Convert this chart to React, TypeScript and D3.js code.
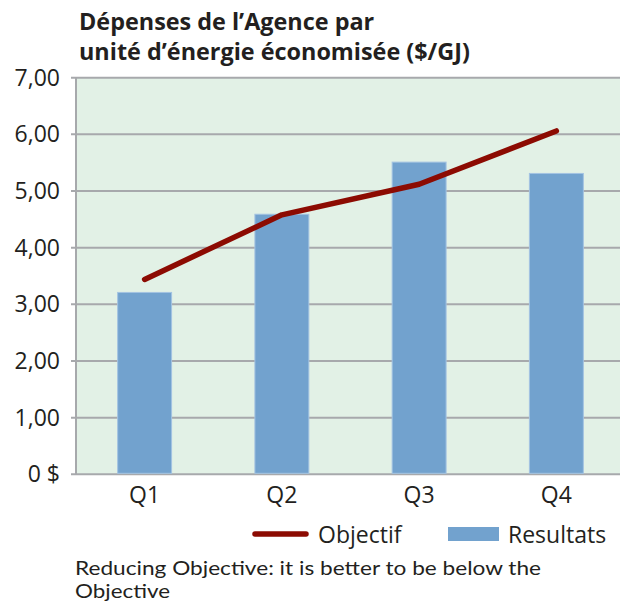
import React from "react";
import * as d3 from "d3";

const quarters = ["Q1", "Q2", "Q3", "Q4"];
const resultats = [3.21, 4.59, 5.51, 5.31];
const objectif = [3.44, 4.58, 5.12, 6.06];
const yTicks = [0, 1, 2, 3, 4, 5, 6, 7];
const yTickLabels = ["0 $", "1,00", "2,00", "3,00", "4,00", "5,00", "6,00", "7,00"];
const titleLines = ["Dépenses de l’Agence par", "unité d’énergie économisée ($/GJ)"];
const noteLines = ["Reducing Objective: it is better to be below the", "Objective"];
const legendLabels = ["Objectif", "Resultats"];

const W = 620;
const H = 604;
const left = 76;
const right = 625;
const top = 77.7;
const bottom = 474.3;
const FONT = "'Open Sans', sans-serif";
const TEXT = "#231f20";

export default function App() {
  const x = d3
    .scaleBand<string>()
    .domain(quarters)
    .range([left, right])
    .paddingInner(0.607)
    .paddingOuter(0.3035);
  const y = d3.scaleLinear().domain([0, 7]).range([bottom, top]);
  const line = d3
    .line<number>()
    .x((_, i) => (x(quarters[i]) as number) + x.bandwidth() / 2)
    .y((d) => y(d));

  return (
    <svg
      width={W}
      height={H}
      style={{ position: "absolute", left: 0, top: 0, background: "#fff" }}
      fontFamily={FONT}
    >
      <text fontSize={23.4} fontWeight={700} fill={TEXT}>
        {titleLines.map((t, i) => (
          <tspan key={t} x={79} y={30 + i * 30}>
            {t}
          </tspan>
        ))}
      </text>
      <rect x={left} y={top} width={W - left} height={bottom - top} fill="#e2f1e6" />
      {yTicks.map((t, i) => (
        <g key={t}>
          <line x1={71} x2={W} y1={y(t)} y2={y(t)} stroke="#a7a9ac" strokeWidth={2} />
          <text x={60} y={y(t) + 8} textAnchor="end" fontSize={23} fill={TEXT}>
            {yTickLabels[i]}
          </text>
        </g>
      ))}
      <line x1={left} x2={left} y1={top} y2={bottom} stroke="#a7a9ac" strokeWidth={2} />
      {quarters.map((q, i) => (
        <rect
          key={q}
          x={x(q)}
          y={y(resultats[i])}
          width={x.bandwidth()}
          height={bottom - 1 - y(resultats[i])}
          fill="#72a2ce"
          stroke="#a3c3e2"
          strokeWidth={1}
        />
      ))}
      <path
        d={line(objectif) as string}
        fill="none"
        stroke="#8c0b02"
        strokeWidth={5.5}
        strokeLinecap="round"
        strokeLinejoin="round"
      />
      {quarters.map((q) => (
        <text
          key={q}
          x={(x(q) as number) + x.bandwidth() / 2}
          y={503}
          textAnchor="middle"
          fontSize={23}
          fill={TEXT}
        >
          {q}
        </text>
      ))}
      <line x1={255} x2={306} y1={534} y2={534} stroke="#8c0b02" strokeWidth={5.5} strokeLinecap="round" />
      <text x={318} y={543} fontSize={23} fill={TEXT}>
        {legendLabels[0]}
      </text>
      <rect x={448} y={527} width={51} height={14} fill="#72a2ce" />
      <text x={508} y={543} fontSize={23} fill={TEXT}>
        {legendLabels[1]}
      </text>
      {noteLines.map((t, i) => (
        <text
          key={t}
          x={75}
          y={575 + i * 23}
          fontSize={19}
          fontFamily="Lato, sans-serif"
          fill={TEXT}
          textLength={i === 0 ? 466 : 95}
          lengthAdjust="spacingAndGlyphs"
        >
          {t}
        </text>
      ))}
    </svg>
  );
}
